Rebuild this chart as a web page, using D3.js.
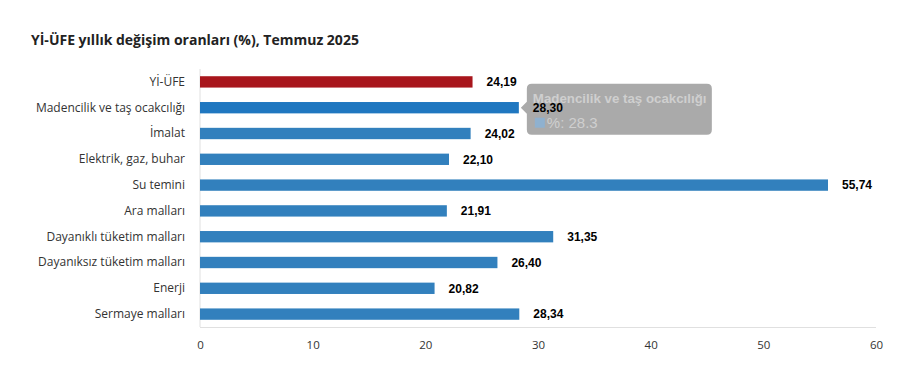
<!DOCTYPE html>
<meta charset="utf-8">
<style>
body { margin: 0; background: #fff; }
.title { font-family: "Open Sans", sans-serif; font-weight: 700; font-size: 14px; fill: #222; }
.cat text { font-family: "Open Sans", sans-serif; font-size: 12px; fill: #333; }
.xax text { font-family: "Open Sans", sans-serif; font-size: 11.5px; fill: #333; }
.val { font-family: "Liberation Sans", Arial, sans-serif; font-weight: 700; font-size: 12px; fill: #000; }
</style>
<body>
<script src="https://cdn.jsdelivr.net/npm/d3@7"></script>
<script>

// categories and values
var categories = ["Yİ-ÜFE", "Madencilik ve taş ocakcılığı", "İmalat", "Elektrik, gaz, buhar",
  "Su temini", "Ara malları", "Dayanıklı tüketim malları", "Dayanıksız tüketim malları",
  "Enerji", "Sermaye malları"];
var values = [24.19, 28.30, 24.02, 22.10, 55.74, 21.91, 31.35, 26.40, 20.82, 28.34];
var valueLabels = ["24,19", "28,30", "24,02", "22,10", "55,74", "21,91", "31,35", "26,40", "20,82", "28,34"];
var xTicks = [0, 10, 20, 30, 40, 50, 60];

var data = categories.map(function(c, i) { return {cat: c, value: values[i], label: valueLabels[i]}; });

var W = 908, H = 380;
var margin = {top: 69, right: 32, bottom: 53, left: 200},
    width = W - margin.left - margin.right,
    height = H - margin.top - margin.bottom;

var svg = d3.select("body").append("svg")
    .attr("width", W)
    .attr("height", H);

svg.append("text")
    .attr("class", "title")
    .attr("x", 31)
    .attr("y", 45)
    .text("Yİ-ÜFE yıllık değişim oranları (%), Temmuz 2025");

var g = svg.append("g")
    .attr("transform", "translate(" + margin.left + "," + margin.top + ")");

var x = d3.scaleLinear().domain([0, 60]).range([0, width]);
var y = d3.scaleBand().domain(categories).range([0, height]).paddingInner(0.56).paddingOuter(0.28);

// axis lines
g.append("line")
    .attr("x1", 0).attr("x2", 0).attr("y1", 0).attr("y2", height)
    .attr("stroke", "#e0e0e0");
g.append("line")
    .attr("x1", 0).attr("x2", width).attr("y1", height + 0.5).attr("y2", height + 0.5)
    .attr("stroke", "#e0e0e0");

// x axis labels
var xAxis = g.append("g")
    .attr("class", "xax")
    .attr("transform", "translate(0," + height + ")")
    .call(d3.axisBottom(x).tickValues(xTicks).tickSize(0).tickPadding(14).tickFormat(d3.format("d")));
xAxis.select(".domain").remove();

// category labels
var yAxis = g.append("g")
    .attr("class", "cat")
    .call(d3.axisLeft(y).tickSize(0).tickPadding(15));
yAxis.select(".domain").remove();

// bars
g.selectAll(".bar")
    .data(data)
    .enter().append("rect")
    .attr("class", "bar")
    .attr("x", 0)
    .attr("y", function(d) { return y(d.cat); })
    .attr("height", y.bandwidth())
    .attr("width", function(d) { return x(d.value); })
    .attr("fill", function(d, i) { return i == 0 ? "#a8161c" : (i == 1 ? "#1f77c0" : "#3280bd"); });

// tooltip (hovered bar)
var hov = data[1];
var tx = x(hov.value) + 2, ty = y(hov.cat) + y.bandwidth() / 2;
var tip = g.append("g").attr("transform", "translate(" + tx + "," + ty + ")");
tip.append("path")
    .attr("d", "M0,0 L6,-6 L6,-19 Q6,-24 11,-24 L186,-24 Q191,-24 191,-19 L191,22 Q191,27 186,27 L11,27 Q6,27 6,22 L6,6 Z")
    .attr("fill", "#aaaaaa");
tip.append("text")
    .attr("x", 12).attr("y", -5)
    .attr("font-family", "Liberation Sans, Arial, sans-serif")
    .attr("font-weight", 700)
    .attr("font-size", "13.3px")
    .attr("fill", "#cfcfcf")
    .text(hov.cat);
tip.append("rect")
    .attr("x", 14).attr("y", 10).attr("width", 10).attr("height", 10)
    .attr("fill", "#8fb1cf");
tip.append("text")
    .attr("x", 26).attr("y", 20)
    .attr("font-family", "Liberation Sans, Arial, sans-serif")
    .attr("font-size", "15px")
    .attr("fill", "#cfcfcf")
    .text("%: " + hov.value.toFixed(1));

// value labels
g.selectAll(".val")
    .data(data)
    .enter().append("text")
    .attr("class", "val")
    .attr("x", function(d) { return x(d.value) + 14; })
    .attr("y", function(d) { return y(d.cat) + y.bandwidth() / 2; })
    .attr("dy", "0.35em")
    .text(function(d) { return d.label; });

</script>
</body>
